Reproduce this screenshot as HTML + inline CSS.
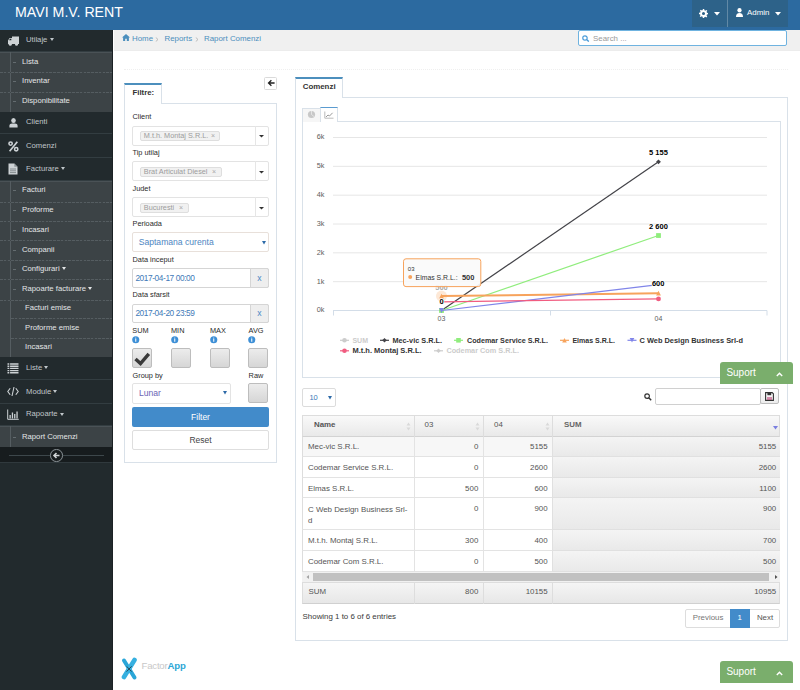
<!DOCTYPE html>
<html><head><meta charset="utf-8">
<style>
*{box-sizing:border-box;margin:0;padding:0}
html,body{width:800px;height:690px;overflow:hidden;background:#fff}
body{position:relative;font-family:"Liberation Sans",sans-serif;font-size:8.5px;color:#393939}
.a{position:absolute}
.t{position:absolute;white-space:nowrap;line-height:1}
/* header */
#hdr{left:0;top:0;width:800px;height:30px;background:#2c6aa0}
#title{left:15px;top:5px;font-size:14.2px;color:#fff;line-height:1}
.hb{top:0;height:27px;background:#2d6289}
/* sidebar */
#sb{left:0;top:30px;width:113px;height:660px;background:#222a2d;border-right:1px solid #1b2124}
.mi{left:0;width:112px;background:#222a2d;border-bottom:1px solid #333d41}
.mt{left:26px;font-size:7.7px;color:#c0c6ca}
.sm{left:0;width:112px;background:#3c4346}
.st{left:22px;font-size:7.7px;color:#e4e6e7}
.dash{left:0;width:112px;height:1px;background:repeating-linear-gradient(90deg,#555d61 0 2.6px,#3f4649 2.6px 3.8px)}
.car{display:inline-block;width:0;height:0;border-left:2.8px solid transparent;border-right:2.8px solid transparent;border-top:3.2px solid currentColor;vertical-align:middle;margin-left:2.2px;position:relative;top:-0.3px}
/* breadcrumb */
#bc{left:114px;top:30px;width:686px;height:21px;background:#f0f0f0;border-bottom:1px solid #ececec}
.bl{color:#4c8fbd;font-size:7.9px}
</style></head><body>

<!-- HEADER -->
<div id="hdr" class="a"></div>
<div id="title" class="t">MAVI M.V. RENT</div>
<div class="a hb" style="left:692px;width:35px"></div>
<div class="a" style="left:727px;top:0;width:1px;height:27px;background:#6289a6"></div>
<div class="a hb" style="left:728px;width:60px"></div>
<svg class="a" style="left:699px;top:8.5px" width="9" height="9" viewBox="0 0 16 16"><path d="M6.8 0h2.4l.4 2.2a6 6 0 0 1 1.6.7l1.8-1.3 1.7 1.7-1.3 1.8a6 6 0 0 1 .7 1.6l2.2.4v2.4l-2.2.4a6 6 0 0 1-.7 1.6l1.3 1.8-1.7 1.7-1.8-1.3a6 6 0 0 1-1.6.7L9.2 16H6.8l-.4-2.2a6 6 0 0 1-1.6-.7L3 14.4 1.3 12.7l1.3-1.8a6 6 0 0 1-.7-1.6L0 9.2V6.8l2.2-.4a6 6 0 0 1 .7-1.6L1.6 3 3.3 1.3l1.8 1.3a6 6 0 0 1 1.6-.7z M8 5.3A2.7 2.7 0 1 0 8 10.7 2.7 2.7 0 1 0 8 5.3z" fill="#fff" fill-rule="evenodd"/></svg>
<svg class="a" style="left:714px;top:11.5px" width="6" height="4" viewBox="0 0 6 4"><path d="M0 0H6L3 3.5Z" fill="#fff"/></svg>
<svg class="a" style="left:735.5px;top:8px" width="7" height="9" viewBox="0 0 7 9"><ellipse cx="3.5" cy="2.3" rx="2.1" ry="2.3" fill="#fff"/><path d="M0 9C0 6 1.2 4.9 3.5 4.9S7 6 7 9Z" fill="#fff"/></svg>
<div class="t" style="left:747px;top:9px;font-size:7.9px;color:#fff">Admin</div>
<svg class="a" style="left:775px;top:11.5px" width="6" height="4" viewBox="0 0 6 4"><path d="M0 0H6L3 3.5Z" fill="#fff"/></svg>

<!-- SIDEBAR -->
<div id="sb" class="a"></div>
<div class="a mi" style="top:30px;height:22px"></div>
<div class="t mt" style="top:36.0px">Utilaje<i class=car></i></div>
<svg class="a" style="left:7px;top:36px" width="13" height="10" viewBox="0 0 13 10"><path d="M5 0.5H12V8H5Z M1 4.5L2.6 2H5V8H1Z" fill="#cdd2d5"/><circle cx="3.3" cy="8.3" r="1.5" fill="#cdd2d5"/><circle cx="9.5" cy="8.3" r="1.5" fill="#cdd2d5"/><path d="M2 4.3L3 2.8H4.3V4.3Z" fill="#222a2d"/></svg>
<div class="a mi" style="top:111.5px;height:22.19999999999999px"></div>
<div class="t mt" style="top:118.4px">Clienti</div>
<svg class="a" style="left:8.5px;top:117.5px" width="9" height="10" viewBox="0 0 9 10"><ellipse cx="4.5" cy="2.6" rx="2.3" ry="2.5" fill="#cdd2d5"/><path d="M0.4 9.6V7.8C0.4 6.2 1.6 5.4 3 5.4H6C7.4 5.4 8.6 6.2 8.6 7.8V9.6Z" fill="#cdd2d5"/></svg>
<div class="a mi" style="top:133.7px;height:24.200000000000017px"></div>
<div class="t mt" style="top:141.6px">Comenzi</div>
<svg class="a" style="left:8px;top:140.5px" width="11" height="11" viewBox="0 0 11 11"><circle cx="2.6" cy="2.6" r="1.65" stroke="#cdd2d5" stroke-width="1.6" fill="none"/><circle cx="8.2" cy="8.2" r="1.65" stroke="#cdd2d5" stroke-width="1.6" fill="none"/><path d="M9.3 0.7L1.6 10.2" stroke="#cdd2d5" stroke-width="1.7"/></svg>
<div class="a mi" style="top:157.9px;height:22.69999999999999px"></div>
<div class="t mt" style="top:164.5px">Facturare<i class=car></i></div>
<svg class="a" style="left:8px;top:163px" width="10" height="12" viewBox="0 0 10 12"><path d="M0.5 0.5H6.3L9.5 3.7V11.5H0.5Z" fill="#cdd2d5"/><path d="M6.3 0.5V3.7H9.5" fill="#8c9497"/><path d="M2 6H8M2 7.8H8M2 9.6H8" stroke="#7c8487" stroke-width="0.9"/></svg>
<div class="a mi" style="top:357px;height:23px"></div>
<div class="t mt" style="top:364.3px">Liste<i class=car></i></div>
<svg class="a" style="left:7px;top:363px" width="12" height="11" viewBox="0 0 12 11"><path d="M0.5 1H11.5M0.5 3.2H11.5M0.5 5.4H11.5M0.5 7.6H11.5M0.5 9.8H11.5" stroke="#cdd2d5" stroke-width="1.4"/><path d="M2.6 0V11" stroke="#222a2d" stroke-width="0.8"/></svg>
<div class="a mi" style="top:380px;height:24px"></div>
<div class="t mt" style="top:387.7px">Module<i class=car></i></div>
<svg class="a" style="left:7px;top:386px" width="12" height="11" viewBox="0 0 12 11"><path d="M3.2 2.2L0.8 5.5L3.2 8.8M8.8 2.2L11.2 5.5L8.8 8.8M7 1L5 10" stroke="#cdd2d5" stroke-width="1.1" fill="none"/></svg>
<div class="a mi" style="top:404px;height:22.399999999999977px"></div>
<div class="t mt" style="top:410.4px">Rapoarte<i class=car></i></div>
<svg class="a" style="left:7px;top:409px" width="12" height="11" viewBox="0 0 12 11"><path d="M0.7 0.5V10.3H11.8" stroke="#cdd2d5" stroke-width="1" fill="none"/><path d="M2.5 6H3.8V9.5H2.5ZM4.8 3.5H6.1V9.5H4.8ZM7.1 5H8.4V9.5H7.1ZM9.4 2.5H10.7V9.5H9.4Z" fill="#cdd2d5"/></svg>
<div class="a sm" style="top:52px;height:59.5px;border-top:1px solid #4a5256"></div>
<div class="a" style="left:10px;top:52px;width:1px;height:59.5px;background:#555d61"></div>
<div class="t st" style="left:22px;top:58.0px">Lista</div>
<div class="a" style="left:13px;top:62.0px;width:3px;height:1px;background:#646c70"></div>
<div class="a dash" style="left:0px;width:112px;top:72.2px"></div>
<div class="t st" style="left:22px;top:77.3px">Inventar</div>
<div class="a" style="left:13px;top:81.3px;width:3px;height:1px;background:#646c70"></div>
<div class="a dash" style="left:0px;width:112px;top:92.2px"></div>
<div class="t st" style="left:22px;top:97.2px">Disponibilitate</div>
<div class="a" style="left:13px;top:101.2px;width:3px;height:1px;background:#646c70"></div>
<div class="a sm" style="top:180.6px;height:176.4px;border-top:1px solid #4a5256"></div>
<div class="a" style="left:10px;top:180.6px;width:1px;height:176.4px;background:#555d61"></div>
<div class="t st" style="left:22px;top:186.2px">Facturi</div>
<div class="a" style="left:13px;top:190.2px;width:3px;height:1px;background:#646c70"></div>
<div class="a dash" style="left:0px;width:112px;top:201.5px"></div>
<div class="t st" style="left:22px;top:206.2px">Proforme</div>
<div class="a" style="left:13px;top:210.2px;width:3px;height:1px;background:#646c70"></div>
<div class="a dash" style="left:0px;width:112px;top:220.7px"></div>
<div class="t st" style="left:22px;top:225.8px">Incasari</div>
<div class="a" style="left:13px;top:229.8px;width:3px;height:1px;background:#646c70"></div>
<div class="a dash" style="left:0px;width:112px;top:240.2px"></div>
<div class="t st" style="left:22px;top:245.5px">Companii</div>
<div class="a" style="left:13px;top:249.5px;width:3px;height:1px;background:#646c70"></div>
<div class="a dash" style="left:0px;width:112px;top:259.8px"></div>
<div class="t st" style="left:22px;top:265.0px">Configurari<i class=car></i></div>
<div class="a" style="left:13px;top:269.0px;width:3px;height:1px;background:#646c70"></div>
<div class="a dash" style="left:0px;width:112px;top:279px"></div>
<div class="t st" style="left:22px;top:284.5px">Rapoarte facturare<i class=car></i></div>
<div class="a" style="left:13px;top:288.5px;width:3px;height:1px;background:#646c70"></div>
<div class="a dash" style="left:0px;width:112px;top:299.5px"></div>
<div class="t st" style="left:25px;top:303.9px">Facturi emise</div>
<div class="a dash" style="left:11px;width:101px;top:318.3px"></div>
<div class="t st" style="left:25px;top:323.5px">Proforme emise</div>
<div class="a dash" style="left:11px;width:101px;top:338.3px"></div>
<div class="t st" style="left:25px;top:343.0px">Incasari</div>
<div class="a sm" style="top:426.4px;height:20.600000000000023px;border-top:1px solid #4a5256"></div>
<div class="a" style="left:10px;top:426.4px;width:1px;height:20.600000000000023px;background:#555d61"></div>
<div class="t st" style="left:22px;top:432.6px">Raport Comenzi</div>
<div class="a" style="left:13px;top:436.6px;width:3px;height:1px;background:#646c70"></div>
<div class="a" style="left:0;top:447px;width:112px;height:16px;background:#171c1e;border-bottom:1px solid #30393d"></div>
<div class="a" style="left:9px;top:455px;width:95px;height:1px;background:#3d474b"></div>
<div class="a" style="left:50px;top:449px;width:12.5px;height:12.5px;border-radius:50%;border:1px solid #8a9296;background:#171c1e"></div>
<svg class="a" style="left:50px;top:449px" width="13" height="13" viewBox="0 0 13 13"><path d="M9.5 6.5H4M6.5 4L4 6.5 6.5 9" stroke="#d0d4d6" stroke-width="1.6" fill="none"/></svg>

<!-- BREADCRUMB -->
<div id="bc" class="a"></div>
<svg class="a" style="left:122px;top:34px" width="8" height="7" viewBox="0 0 8 7"><path d="M4 0L0 3.6H1.1V7H3.2V4.8H4.8V7H6.9V3.6H8Z" fill="#4c8fbd"/></svg>
<div class="t bl" style="left:132px;top:34.5px">Home</div>
<svg class="a" style="left:155px;top:37px" width="4" height="5" viewBox="0 0 4 5"><path d="M0.8 0.5L3 2.5L0.8 4.5" stroke="#b0b0b0" stroke-width="0.8" fill="none"/></svg>
<div class="t bl" style="left:164.5px;top:34.5px">Reports</div>
<svg class="a" style="left:195px;top:37px" width="4" height="5" viewBox="0 0 4 5"><path d="M0.8 0.5L3 2.5L0.8 4.5" stroke="#b0b0b0" stroke-width="0.8" fill="none"/></svg>
<div class="t bl" style="left:204px;top:34.5px">Raport Comenzi</div>
<div class="a" style="left:578px;top:29.8px;width:209px;height:16.6px;background:#fff;border:1px solid #6fb3e0;border-radius:2px"></div>
<svg class="a" style="left:581.5px;top:35px" width="8" height="7" viewBox="0 0 8 7"><circle cx="3" cy="3" r="2.2" stroke="#4a9bd8" stroke-width="1.2" fill="none"/><path d="M4.6 4.6L6.8 6.6" stroke="#4a9bd8" stroke-width="1.4"/></svg>
<div class="t" style="left:593px;top:34.5px;font-size:7.9px;color:#9a9a9a">Search ...</div>
<!-- dotted divider -->
<div class="a" style="left:124px;top:69px;width:664px;height:0;border-top:1px dotted #efefef"></div>

<!-- FILTER PANEL -->
<div class="a" style="left:264px;top:76.8px;width:12.8px;height:13px;border:1px solid #dadada;background:#fff;border-radius:1.5px"></div>
<svg class="a" style="left:266.5px;top:79.3px" width="9" height="8" viewBox="0 0 9 8"><path d="M7.6 4H2M4.4 1.2L1.5 4L4.4 6.8" stroke="#222" stroke-width="1.3" fill="none"/></svg>
<div class="a" style="left:124px;top:102.5px;width:153px;height:360px;border:1px solid #d9e1e9"></div>
<div class="a" style="left:124px;top:82.5px;width:37.5px;height:21px;border:1px solid #d9e1e9;border-top:2px solid #4c8fbd;border-bottom:0;background:#fff"></div>
<div class="t" style="left:132.5px;top:89.3px;font-size:7.8px;font-weight:bold;color:#333">Filtre:</div>
<div class="t" style="left:132.5px;top:113.4px;font-size:7.35px;color:#2a2a2a">Client</div>
<div class="t" style="left:132.5px;top:149px;font-size:7.35px;color:#2a2a2a">Tip utilaj</div>
<div class="t" style="left:132.5px;top:185px;font-size:7.35px;color:#2a2a2a">Judet</div>
<div class="t" style="left:132.5px;top:220.2px;font-size:7.35px;color:#2a2a2a">Perioada</div>
<div class="t" style="left:132.5px;top:255.7px;font-size:7.35px;color:#2a2a2a">Data inceput</div>
<div class="t" style="left:132.5px;top:290.5px;font-size:7.35px;color:#2a2a2a">Data sfarsit</div>
<div class="t" style="left:132.3px;top:326.8px;font-size:7.35px;color:#2a2a2a">SUM</div>
<div class="t" style="left:171px;top:326.8px;font-size:7.35px;color:#2a2a2a">MIN</div>
<div class="t" style="left:210px;top:326.8px;font-size:7.35px;color:#2a2a2a">MAX</div>
<div class="t" style="left:248.6px;top:326.8px;font-size:7.35px;color:#2a2a2a">AVG</div>
<div class="t" style="left:132.5px;top:371.5px;font-size:7.35px;color:#2a2a2a">Group by</div>
<div class="t" style="left:248.6px;top:371.5px;font-size:7.35px;color:#2a2a2a">Raw</div>
<div class="a" style="left:132px;top:125.5px;width:137px;height:20px;border:1px solid #e3e3e3;border-radius:2px;background:#fff"></div>
<div class="a" style="left:254.5px;top:125.5px;width:1px;height:20px;background:#e6e6e6"></div>
<svg class="a" style="left:259px;top:135.2px" width="5" height="3" viewBox="0 0 5 3"><path d="M0 0H5L2.5 2.5Z" fill="#333"/></svg>
<div class="a" style="left:140px;top:130.7px;width:80.4px;height:10px;border:1px solid #dedede;border-radius:2px;background:#f1f1f1"></div>
<div class="t" style="left:143.8px;top:132.0px;font-size:7.3px;color:#9c9c9c">M.t.h. Montaj S.R.L.</div>
<div class="t" style="left:210.9px;top:132.1px;font-size:7px;color:#a8a8a8">&#215;</div>
<div class="a" style="left:132px;top:161.4px;width:137px;height:20px;border:1px solid #e3e3e3;border-radius:2px;background:#fff"></div>
<div class="a" style="left:254.5px;top:161.4px;width:1px;height:20px;background:#e6e6e6"></div>
<svg class="a" style="left:259px;top:171.1px" width="5" height="3" viewBox="0 0 5 3"><path d="M0 0H5L2.5 2.5Z" fill="#333"/></svg>
<div class="a" style="left:140px;top:166.6px;width:81.6px;height:10px;border:1px solid #dedede;border-radius:2px;background:#f1f1f1"></div>
<div class="t" style="left:143.8px;top:167.9px;font-size:7.3px;color:#9c9c9c">Brat Articulat Diesel</div>
<div class="t" style="left:212.1px;top:168.0px;font-size:7px;color:#a8a8a8">&#215;</div>
<div class="a" style="left:132px;top:197.4px;width:137px;height:20px;border:1px solid #e3e3e3;border-radius:2px;background:#fff"></div>
<div class="a" style="left:254.5px;top:197.4px;width:1px;height:20px;background:#e6e6e6"></div>
<svg class="a" style="left:259px;top:207.1px" width="5" height="3" viewBox="0 0 5 3"><path d="M0 0H5L2.5 2.5Z" fill="#333"/></svg>
<div class="a" style="left:140px;top:202.6px;width:48.599999999999994px;height:10px;border:1px solid #dedede;border-radius:2px;background:#f1f1f1"></div>
<div class="t" style="left:143.8px;top:203.9px;font-size:7.3px;color:#9c9c9c">Bucuresti</div>
<div class="t" style="left:179.1px;top:204.0px;font-size:7px;color:#a8a8a8">&#215;</div>
<div class="a" style="left:132px;top:232.3px;width:137px;height:20.2px;border:1px solid #e8e0da;border-radius:2px;background:#fff"></div>
<div class="t" style="left:138.7px;top:237.6px;font-size:8.6px;color:#4e86c2">Saptamana curenta</div>
<svg class="a" style="left:261.5px;top:240.5px" width="4" height="4" viewBox="0 0 4 4"><path d="M0 0H4L2 3.5Z" fill="#2e6ba8"/></svg>
<div class="a" style="left:132px;top:268.3px;width:137px;height:19.5px;border:1px solid #d5d5d5;border-radius:2px;background:#fff"></div>
<div class="a" style="left:249.7px;top:268.3px;width:19.3px;height:19.5px;border:1px solid #d5d5d5;border-radius:0 2px 2px 0;background:#eee"></div>
<div class="t" style="left:135.4px;top:274.1px;font-size:8.3px;letter-spacing:-0.4px;color:#3f7ab8">2017-04-17 00:00</div>
<div class="t" style="left:257.2px;top:273.90000000000003px;font-size:8.6px;color:#4a86c5">x</div>
<div class="a" style="left:132px;top:303.6px;width:137px;height:19.5px;border:1px solid #d5d5d5;border-radius:2px;background:#fff"></div>
<div class="a" style="left:249.7px;top:303.6px;width:19.3px;height:19.5px;border:1px solid #d5d5d5;border-radius:0 2px 2px 0;background:#eee"></div>
<div class="t" style="left:135.4px;top:309.40000000000003px;font-size:8.3px;letter-spacing:-0.4px;color:#3f7ab8">2017-04-20 23:59</div>
<div class="t" style="left:257.2px;top:309.20000000000005px;font-size:8.6px;color:#4a86c5">x</div>
<svg class="a" style="left:132.2px;top:336px" width="7.5" height="7.5" viewBox="0 0 8 8"><circle cx="4" cy="4" r="3.8" fill="#3d8fd6"/><path d="M4 3.3V6.2" stroke="#fff" stroke-width="1.1"/><circle cx="4" cy="2.2" r="0.6" fill="#fff"/></svg>
<svg class="a" style="left:171.2px;top:336px" width="7.5" height="7.5" viewBox="0 0 8 8"><circle cx="4" cy="4" r="3.8" fill="#3d8fd6"/><path d="M4 3.3V6.2" stroke="#fff" stroke-width="1.1"/><circle cx="4" cy="2.2" r="0.6" fill="#fff"/></svg>
<svg class="a" style="left:210px;top:336px" width="7.5" height="7.5" viewBox="0 0 8 8"><circle cx="4" cy="4" r="3.8" fill="#3d8fd6"/><path d="M4 3.3V6.2" stroke="#fff" stroke-width="1.1"/><circle cx="4" cy="2.2" r="0.6" fill="#fff"/></svg>
<svg class="a" style="left:248.4px;top:336px" width="7.5" height="7.5" viewBox="0 0 8 8"><circle cx="4" cy="4" r="3.8" fill="#3d8fd6"/><path d="M4 3.3V6.2" stroke="#fff" stroke-width="1.1"/><circle cx="4" cy="2.2" r="0.6" fill="#fff"/></svg>
<div class="a" style="left:132px;top:348px;width:19.8px;height:20px;border:1px solid #bdbdbd;border-radius:2px;background:linear-gradient(#ececec,#d6d6d6)"></div>
<div class="a" style="left:171.2px;top:348px;width:19.8px;height:20px;border:1px solid #bdbdbd;border-radius:2px;background:linear-gradient(#ececec,#d6d6d6)"></div>
<div class="a" style="left:210px;top:348px;width:19.8px;height:20px;border:1px solid #bdbdbd;border-radius:2px;background:linear-gradient(#ececec,#d6d6d6)"></div>
<div class="a" style="left:248.4px;top:348px;width:19.8px;height:20px;border:1px solid #bdbdbd;border-radius:2px;background:linear-gradient(#ececec,#d6d6d6)"></div>
<div class="a" style="left:248.2px;top:383.4px;width:19.8px;height:20px;border:1px solid #bdbdbd;border-radius:2px;background:linear-gradient(#ececec,#d6d6d6)"></div>
<svg class="a" style="left:132px;top:348px" width="20" height="20" viewBox="0 0 20 20"><path d="M3.5 11L8.5 15.5L16.8 5.8" stroke="#3a3a3a" stroke-width="3.4" fill="none" stroke-linejoin="miter"/></svg>
<div class="a" style="left:132px;top:383.4px;width:98.6px;height:20.2px;border:1px solid #e3e3e3;border-radius:2px;background:#fff"></div>
<div class="t" style="left:139px;top:389.2px;font-size:8.6px;color:#6a64b4">Lunar</div>
<svg class="a" style="left:223px;top:391.3px" width="4" height="4" viewBox="0 0 4 4"><path d="M0 0H4L2 3.5Z" fill="#2e6ba8"/></svg>
<div class="a" style="left:132px;top:406.8px;width:137px;height:20px;background:#428bca;border-radius:2px"></div>
<div class="t" style="left:132px;top:412.6px;width:137px;text-align:center;font-size:8.5px;color:#fff">Filter</div>
<div class="a" style="left:132px;top:430px;width:137px;height:19.8px;background:#fff;border:1px solid #dedede;border-radius:2px"></div>
<div class="t" style="left:132px;top:435.8px;width:137px;text-align:center;font-size:8.5px;color:#444">Reset</div>
<!-- COMENZI PANEL -->
<div class="a" style="left:294.5px;top:96.6px;width:493px;height:544.6px;border:1px solid #d9e1e9"></div>
<div class="a" style="left:294.5px;top:76.8px;width:48px;height:21px;border:1px solid #d9e1e9;border-top:2px solid #4c8fbd;border-bottom:0;background:#fff"></div>
<div class="t" style="left:302.7px;top:83.2px;font-size:7.9px;font-weight:bold;color:#333">Comenzi</div>
<div class="a" style="left:302.2px;top:120.8px;width:478.4px;height:257.7px;border:1px solid #d9e1e9"></div>
<div class="a" style="left:302.2px;top:108.2px;width:18.6px;height:13.6px;border:1px solid #d9e1e9;border-bottom:0;background:#f6f6f6"></div>
<div class="a" style="left:320.3px;top:107px;width:17.6px;height:14.8px;border:1px solid #d9e1e9;border-top:1.6px solid #5a9bd0;border-bottom:0;background:#fff"></div>
<svg class="a" style="left:307px;top:110px" width="9" height="9" viewBox="0 0 9 9"><circle cx="4.5" cy="4.5" r="3.6" fill="#c8c8c8"/><path d="M4.5 4.5V0.9M4.5 4.5L7.3 6.8" stroke="#f6f6f6" stroke-width="0.6"/></svg>
<svg class="a" style="left:324px;top:110.5px" width="10" height="8" viewBox="0 0 10 8"><path d="M0.8 0.5V7.2H9.5" stroke="#a9a9a9" stroke-width="0.8" fill="none"/><path d="M2 6L4 4L5.5 5L8.6 1.8" stroke="#8f8f8f" stroke-width="0.9" fill="none"/></svg>
<!--CHART--><svg class="a" style="left:0;top:0;overflow:visible" width="800" height="690" font-family="Liberation Sans, sans-serif"><path d="M333 281.67H767" stroke="#e6e6e6" stroke-width="1"/><path d="M333 252.83H767" stroke="#e6e6e6" stroke-width="1"/><path d="M333 224.00H767" stroke="#e6e6e6" stroke-width="1"/><path d="M333 195.17H767" stroke="#e6e6e6" stroke-width="1"/><path d="M333 166.34H767" stroke="#e6e6e6" stroke-width="1"/><path d="M333 137.50H767" stroke="#e6e6e6" stroke-width="1"/><path d="M333 310.5H767" stroke="#d3dde8" stroke-width="1"/><path d="M333.5 310.5V315.5" stroke="#d3dde8" stroke-width="1"/><path d="M550.5 310.5V315.5" stroke="#d3dde8" stroke-width="1"/><path d="M767 310.5V315.5" stroke="#d3dde8" stroke-width="1"/><text x="324.4" y="312.40" text-anchor="end" font-size="7.3" fill="#606060">0k</text><text x="324.4" y="283.57" text-anchor="end" font-size="7.3" fill="#606060">1k</text><text x="324.4" y="254.73" text-anchor="end" font-size="7.3" fill="#606060">2k</text><text x="324.4" y="225.90" text-anchor="end" font-size="7.3" fill="#606060">3k</text><text x="324.4" y="197.07" text-anchor="end" font-size="7.3" fill="#606060">4k</text><text x="324.4" y="168.24" text-anchor="end" font-size="7.3" fill="#606060">5k</text><text x="324.4" y="139.40" text-anchor="end" font-size="7.3" fill="#606060">6k</text><text x="441.5" y="321.3" text-anchor="middle" font-size="7" fill="#606060">03</text><text x="658.5" y="321.3" text-anchor="middle" font-size="7" fill="#606060">04</text><path d="M441.5 310.50L658.5 161.87" stroke="#434348" stroke-width="1.2" fill="none"/><path d="M441.5 308.10L443.9 310.50L441.5 312.90L439.1 310.50Z" fill="#434348"/><path d="M658.5 159.47L660.9 161.87L658.5 164.27L656.1 161.87Z" fill="#434348"/><path d="M441.5 310.50L658.5 235.53" stroke="#90ed7d" stroke-width="1.2" fill="none"/><rect x="439.1" y="308.10" width="4.8" height="4.8" fill="#90ed7d"/><rect x="656.1" y="233.13" width="4.8" height="4.8" fill="#90ed7d"/><circle cx="441.5" cy="296.08" r="5.5" fill="#f7a35c" fill-opacity="0.25"/><path d="M441.5 296.08L658.5 293.20" stroke="#f7a35c" stroke-width="2.0" fill="none"/><path d="M441.5 293.68L443.9 298.48L439.1 298.48Z" fill="#f7a35c"/><path d="M658.5 290.80L660.9 295.60L656.1 295.60Z" fill="#f7a35c"/><path d="M441.5 310.50L658.5 284.55" stroke="#8085e9" stroke-width="1.2" fill="none"/><path d="M439.1 308.10L443.9 308.10L441.5 312.90Z" fill="#8085e9"/><path d="M656.1 282.15L660.9 282.15L658.5 286.95Z" fill="#8085e9"/><path d="M441.5 301.85L658.5 298.97" stroke="#f15c80" stroke-width="1.2" fill="none"/><circle cx="441.5" cy="301.85" r="2.4" fill="#f15c80"/><circle cx="658.5" cy="298.97" r="2.4" fill="#f15c80"/><text x="658.5" y="155.3" text-anchor="middle" font-size="7.5" font-weight="bold" fill="#000" stroke="#fff" stroke-width="1.6" paint-order="stroke" stroke-linejoin="round" opacity="1">5 155</text><text x="658.5" y="229.2" text-anchor="middle" font-size="7.5" font-weight="bold" fill="#000" stroke="#fff" stroke-width="1.6" paint-order="stroke" stroke-linejoin="round" opacity="1">2 600</text><text x="658.2" y="286.2" text-anchor="middle" font-size="7.5" font-weight="bold" fill="#000" stroke="#fff" stroke-width="1.6" paint-order="stroke" stroke-linejoin="round" opacity="1">600</text><text x="441.5" y="290" text-anchor="middle" font-size="7.5" font-weight="bold" fill="#000" stroke="#fff" stroke-width="1.6" paint-order="stroke" stroke-linejoin="round" opacity="0.35">500</text><text x="441.5" y="304.3" text-anchor="middle" font-size="7.5" font-weight="bold" fill="#000" stroke="#fff" stroke-width="1.6" paint-order="stroke" stroke-linejoin="round" opacity="1">0</text><path d="M340 340.3H349" stroke="#cccccc" stroke-width="1.2"/><circle cx="344.5" cy="340.30" r="2.3" fill="#cccccc"/><text x="352.4" y="342.90000000000003" font-size="7.2" font-weight="bold" fill="#cccccc" textLength="15.6" lengthAdjust="spacingAndGlyphs">SUM</text><path d="M380 340.3H389" stroke="#434348" stroke-width="1.2"/><path d="M384.5 338.00L386.8 340.30L384.5 342.60L382.2 340.30Z" fill="#434348"/><text x="392.4" y="342.90000000000003" font-size="7.2" font-weight="bold" fill="#333333" textLength="49.6" lengthAdjust="spacingAndGlyphs">Mec-vic S.R.L.</text><path d="M454 340.3H463" stroke="#90ed7d" stroke-width="1.2"/><rect x="456.2" y="338.00" width="4.6" height="4.6" fill="#90ed7d"/><text x="467" y="342.90000000000003" font-size="7.2" font-weight="bold" fill="#333333" textLength="81" lengthAdjust="spacingAndGlyphs">Codemar Service S.R.L.</text><path d="M560 340.3H569" stroke="#f7a35c" stroke-width="1.2"/><path d="M564.5 338.00L566.8 342.60L562.2 342.60Z" fill="#f7a35c"/><text x="572.4" y="342.90000000000003" font-size="7.2" font-weight="bold" fill="#333333" textLength="42.6" lengthAdjust="spacingAndGlyphs">Elmas S.R.L.</text><path d="M627.5 340.3H636.5" stroke="#8085e9" stroke-width="1.2"/><path d="M629.7 338.00L634.3 338.00L632.0 342.60Z" fill="#8085e9"/><text x="639.6" y="342.90000000000003" font-size="7.2" font-weight="bold" fill="#333333" textLength="103.4" lengthAdjust="spacingAndGlyphs">C Web Design Business Srl-d</text><path d="M340 350.8H349" stroke="#f15c80" stroke-width="1.2"/><circle cx="344.5" cy="350.80" r="2.3" fill="#f15c80"/><text x="352.4" y="353.40000000000003" font-size="7.2" font-weight="bold" fill="#333333" textLength="69.2" lengthAdjust="spacingAndGlyphs">M.t.h. Montaj S.R.L.</text><path d="M434 350.8H443" stroke="#cccccc" stroke-width="1.2"/><path d="M438.5 348.50L440.8 350.80L438.5 353.10L436.2 350.80Z" fill="#cccccc"/><text x="446.4" y="353.40000000000003" font-size="7.2" font-weight="bold" fill="#cccccc" textLength="72.6" lengthAdjust="spacingAndGlyphs">Codemar Com S.R.L.</text><rect x="403.5" y="258.8" width="77.3" height="27.8" rx="2.5" fill="#f9f9f9" fill-opacity="0.9" stroke="#f7a35c" stroke-width="1"/><text x="407.8" y="271" font-size="6" fill="#333">03</text><circle cx="410.2" cy="276.9" r="2" fill="#f7a35c"/><text x="415.6" y="279.5" font-size="7" fill="#333" textLength="42" lengthAdjust="spacingAndGlyphs">Elmas S.R.L.:</text><text x="461.9" y="279.6" font-size="7.5" font-weight="bold" fill="#333">500</text></svg><!--/CHART-->
<!-- TABLE -->
<div class="a" style="left:302.3px;top:388.4px;width:33.7px;height:18.2px;border:1px solid #dcdcdc;border-radius:2px;background:#fff"></div>
<div class="t" style="left:309.4px;top:393.8px;font-size:7.5px;color:#3a78b8">10</div>
<svg class="a" style="left:328.4px;top:396px" width="4" height="4" viewBox="0 0 4 4"><path d="M0 0H4L2 3.5Z" fill="#2e6ba8"/></svg>
<svg class="a" style="left:643.8px;top:393.4px" width="8" height="8" viewBox="0 0 8 8"><circle cx="3.1" cy="3.1" r="2.3" stroke="#333" stroke-width="1.2" fill="none"/><path d="M4.8 4.8L7.2 7.2" stroke="#333" stroke-width="1.5"/></svg>
<div class="a" style="left:655px;top:388.4px;width:106px;height:16.4px;border:1px solid #d0d0d0;border-radius:2px;background:#fff"></div>
<div class="a" style="left:760.4px;top:388.2px;width:18.2px;height:15.6px;border:1px solid #bdbdbd;border-radius:2px;background:linear-gradient(#fff,#ececec)"></div>
<svg class="a" style="left:765px;top:391.5px" width="9" height="9" viewBox="0 0 9 9"><path d="M0.6 0.6H7.2L8.4 1.8V8.4H0.6Z" fill="none" stroke="#333" stroke-width="1.1"/><rect x="2.4" y="0.6" width="3.8" height="2.6" fill="#333"/><rect x="2" y="5" width="5" height="3" fill="#c2477a" opacity="0.6"/></svg>
<div class="a" style="left:302.4px;top:415.2px;width:478.0px;height:21.4px;background:linear-gradient(#f9f9f9,#e9e9e9);border:1px solid #dddddd;border-bottom:1px solid #d3d3d3"></div>
<div class="a" style="left:413.6px;top:415.2px;width:1px;height:21.4px;background:#dddddd"></div>
<div class="a" style="left:483.4px;top:415.2px;width:1px;height:21.4px;background:#dddddd"></div>
<div class="a" style="left:552.2px;top:415.2px;width:1px;height:21.4px;background:#dddddd"></div>
<div class="t" style="left:314px;top:421.2px;font-size:7.9px;font-weight:bold;color:#555">Name</div>
<div class="t" style="left:424.6px;top:421.2px;font-size:7.9px;color:#555">03</div>
<div class="t" style="left:494px;top:421.2px;font-size:7.9px;color:#555">04</div>
<div class="t" style="left:564px;top:421.2px;font-size:7.9px;font-weight:bold;color:#666">SUM</div>
<svg class="a" style="left:406px;top:421.5px" width="5" height="9" viewBox="0 0 5 9"><path d="M2.5 0.5L4.5 3.6H0.5Z M0.5 5.4H4.5L2.5 8.5Z" fill="#d9d9d9"/></svg>
<svg class="a" style="left:475px;top:421.5px" width="5" height="9" viewBox="0 0 5 9"><path d="M2.5 0.5L4.5 3.6H0.5Z M0.5 5.4H4.5L2.5 8.5Z" fill="#d9d9d9"/></svg>
<svg class="a" style="left:544.5px;top:421.5px" width="5" height="9" viewBox="0 0 5 9"><path d="M2.5 0.5L4.5 3.6H0.5Z M0.5 5.4H4.5L2.5 8.5Z" fill="#d9d9d9"/></svg>
<svg class="a" style="left:772.8px;top:426.2px" width="5" height="4" viewBox="0 0 5 4"><path d="M0 0H5L2.5 3.5Z" fill="#7a7fe0"/></svg>
<div class="a" style="left:302.4px;top:436.6px;width:250.20000000000005px;height:20.799999999999955px;background:#f7f7f7;border-left:1px solid #ddd;border-bottom:1px solid #e3e3e3"></div>
<div class="a" style="left:552.2px;top:436.6px;width:227.79999999999995px;height:20.799999999999955px;background:linear-gradient(#f4f4f4,#e9e9e9);border-bottom:1px solid #e0e0e0;border-left:1px solid #e0e0e0"></div>
<div class="a" style="left:413.6px;top:436.6px;width:1px;height:20.799999999999955px;background:#e3e3e3"></div>
<div class="a" style="left:483.4px;top:436.6px;width:1px;height:20.799999999999955px;background:#e3e3e3"></div>
<div class="t" style="left:308px;top:443.2px;font-size:7.9px;color:#555">Mec-vic S.R.L.</div>
<div class="t" style="left:413.6px;top:443.2px;width:64.69999999999999px;text-align:right;font-size:7.9px;color:#555">0</div>
<div class="t" style="left:483.4px;top:443.2px;width:64.20000000000005px;text-align:right;font-size:7.9px;color:#555">5155</div>
<div class="t" style="left:552.2px;top:443.2px;width:224.0px;text-align:right;font-size:7.9px;color:#555">5155</div>
<div class="a" style="left:302.4px;top:457.4px;width:250.20000000000005px;height:21.0px;background:#fff;border-left:1px solid #ddd;border-bottom:1px solid #e3e3e3"></div>
<div class="a" style="left:552.2px;top:457.4px;width:227.79999999999995px;height:21.0px;background:linear-gradient(#f4f4f4,#e9e9e9);border-bottom:1px solid #e0e0e0;border-left:1px solid #e0e0e0"></div>
<div class="a" style="left:413.6px;top:457.4px;width:1px;height:21.0px;background:#e3e3e3"></div>
<div class="a" style="left:483.4px;top:457.4px;width:1px;height:21.0px;background:#e3e3e3"></div>
<div class="t" style="left:308px;top:464.1px;font-size:7.9px;color:#555">Codemar Service S.R.L.</div>
<div class="t" style="left:413.6px;top:464.1px;width:64.69999999999999px;text-align:right;font-size:7.9px;color:#555">0</div>
<div class="t" style="left:483.4px;top:464.1px;width:64.20000000000005px;text-align:right;font-size:7.9px;color:#555">2600</div>
<div class="t" style="left:552.2px;top:464.1px;width:224.0px;text-align:right;font-size:7.9px;color:#555">2600</div>
<div class="a" style="left:302.4px;top:478.4px;width:250.20000000000005px;height:20.0px;background:#fff;border-left:1px solid #ddd;border-bottom:1px solid #e3e3e3"></div>
<div class="a" style="left:552.2px;top:478.4px;width:227.79999999999995px;height:20.0px;background:linear-gradient(#f4f4f4,#e9e9e9);border-bottom:1px solid #e0e0e0;border-left:1px solid #e0e0e0"></div>
<div class="a" style="left:413.6px;top:478.4px;width:1px;height:20.0px;background:#e3e3e3"></div>
<div class="a" style="left:483.4px;top:478.4px;width:1px;height:20.0px;background:#e3e3e3"></div>
<div class="t" style="left:308px;top:484.6px;font-size:7.9px;color:#555">Elmas S.R.L.</div>
<div class="t" style="left:413.6px;top:484.6px;width:64.69999999999999px;text-align:right;font-size:7.9px;color:#555">500</div>
<div class="t" style="left:483.4px;top:484.6px;width:64.20000000000005px;text-align:right;font-size:7.9px;color:#555">600</div>
<div class="t" style="left:552.2px;top:484.6px;width:224.0px;text-align:right;font-size:7.9px;color:#555">1100</div>
<div class="a" style="left:302.4px;top:498.4px;width:250.20000000000005px;height:32.0px;background:#fff;border-left:1px solid #ddd;border-bottom:1px solid #e3e3e3"></div>
<div class="a" style="left:552.2px;top:498.4px;width:227.79999999999995px;height:32.0px;background:linear-gradient(#f4f4f4,#e9e9e9);border-bottom:1px solid #e0e0e0;border-left:1px solid #e0e0e0"></div>
<div class="a" style="left:413.6px;top:498.4px;width:1px;height:32.0px;background:#e3e3e3"></div>
<div class="a" style="left:483.4px;top:498.4px;width:1px;height:32.0px;background:#e3e3e3"></div>
<div class="t" style="left:308px;top:505.4px;font-size:7.9px;color:#555;line-height:10.6px">C Web Design Business Srl-<br>d</div>
<div class="t" style="left:413.6px;top:505.4px;width:64.69999999999999px;text-align:right;font-size:7.9px;color:#555">0</div>
<div class="t" style="left:483.4px;top:505.4px;width:64.20000000000005px;text-align:right;font-size:7.9px;color:#555">900</div>
<div class="t" style="left:552.2px;top:505.4px;width:224.0px;text-align:right;font-size:7.9px;color:#555">900</div>
<div class="a" style="left:302.4px;top:530.4px;width:250.20000000000005px;height:21.0px;background:#fff;border-left:1px solid #ddd;border-bottom:1px solid #e3e3e3"></div>
<div class="a" style="left:552.2px;top:530.4px;width:227.79999999999995px;height:21.0px;background:linear-gradient(#f4f4f4,#e9e9e9);border-bottom:1px solid #e0e0e0;border-left:1px solid #e0e0e0"></div>
<div class="a" style="left:413.6px;top:530.4px;width:1px;height:21.0px;background:#e3e3e3"></div>
<div class="a" style="left:483.4px;top:530.4px;width:1px;height:21.0px;background:#e3e3e3"></div>
<div class="t" style="left:308px;top:537.1px;font-size:7.9px;color:#555">M.t.h. Montaj S.R.L.</div>
<div class="t" style="left:413.6px;top:537.1px;width:64.69999999999999px;text-align:right;font-size:7.9px;color:#555">300</div>
<div class="t" style="left:483.4px;top:537.1px;width:64.20000000000005px;text-align:right;font-size:7.9px;color:#555">400</div>
<div class="t" style="left:552.2px;top:537.1px;width:224.0px;text-align:right;font-size:7.9px;color:#555">700</div>
<div class="a" style="left:302.4px;top:551.4px;width:250.20000000000005px;height:21.0px;background:#fff;border-left:1px solid #ddd;border-bottom:1px solid #e3e3e3"></div>
<div class="a" style="left:552.2px;top:551.4px;width:227.79999999999995px;height:21.0px;background:linear-gradient(#f4f4f4,#e9e9e9);border-bottom:1px solid #e0e0e0;border-left:1px solid #e0e0e0"></div>
<div class="a" style="left:413.6px;top:551.4px;width:1px;height:21.0px;background:#e3e3e3"></div>
<div class="a" style="left:483.4px;top:551.4px;width:1px;height:21.0px;background:#e3e3e3"></div>
<div class="t" style="left:308px;top:558.1px;font-size:7.9px;color:#555">Codemar Com S.R.L.</div>
<div class="t" style="left:413.6px;top:558.1px;width:64.69999999999999px;text-align:right;font-size:7.9px;color:#555">0</div>
<div class="t" style="left:483.4px;top:558.1px;width:64.20000000000005px;text-align:right;font-size:7.9px;color:#555">500</div>
<div class="t" style="left:552.2px;top:558.1px;width:224.0px;text-align:right;font-size:7.9px;color:#555">500</div>
<div class="a" style="left:302.4px;top:572.4px;width:478.0px;height:9.6px;background:#f1f1f1"></div>
<div class="a" style="left:312.6px;top:573px;width:456.6px;height:8.2px;background:#c1c1c1"></div>
<svg class="a" style="left:305.5px;top:575px" width="3" height="4" viewBox="0 0 3 4"><path d="M3 0V4L0.5 2Z" fill="#a3a3a3"/></svg>
<svg class="a" style="left:774.6px;top:575px" width="3" height="4" viewBox="0 0 3 4"><path d="M0 0V4L2.5 2Z" fill="#505050"/></svg>
<div class="a" style="left:302.4px;top:582.2px;width:478.0px;height:21.4px;background:linear-gradient(#f5f5f5,#e7e7e7);border:1px solid #dddddd;border-bottom:1px solid #d0d0d0"></div>
<div class="a" style="left:413.6px;top:582.2px;width:1px;height:21.4px;background:#dddddd"></div>
<div class="a" style="left:483.4px;top:582.2px;width:1px;height:21.4px;background:#dddddd"></div>
<div class="a" style="left:552.2px;top:582.2px;width:1px;height:21.4px;background:#dddddd"></div>
<div class="t" style="left:308.6px;top:588.3px;font-size:7.9px;color:#555">SUM</div>
<div class="t" style="left:413.6px;top:588.3px;width:64.69999999999999px;text-align:right;font-size:7.9px;color:#555">800</div>
<div class="t" style="left:483.4px;top:588.3px;width:64.20000000000005px;text-align:right;font-size:7.9px;color:#555">10155</div>
<div class="t" style="left:552.2px;top:588.3px;width:224.0px;text-align:right;font-size:7.9px;color:#555">10955</div>
<div class="t" style="left:302.6px;top:613px;font-size:7.9px;color:#393939">Showing 1 to 6 of 6 entries</div>
<div class="a" style="left:685.2px;top:608.9px;width:95.2px;height:18.8px;border:1px solid #dddddd;border-radius:2px;background:#fff"></div>
<div class="a" style="left:729.9px;top:608.9px;width:19.7px;height:18.8px;background:#428bca"></div>
<div class="t" style="left:692.7px;top:614.3px;font-size:7.9px;color:#777">Previous</div>
<div class="t" style="left:729.9px;top:614.3px;width:19.7px;text-align:center;font-size:7.9px;color:#fff">1</div>
<div class="t" style="left:756.9px;top:614.3px;font-size:7.9px;color:#555">Next</div>
<!-- SUPPORT + LOGO -->
<div class="a" style="left:720.4px;top:361.5px;width:72.7px;height:22.3px;background:#7aae6c;border-radius:3px 3px 0 0"></div>
<div class="t" style="left:726.4px;top:367.8px;font-size:10px;color:#fff">Suport</div>
<svg class="a" style="left:776.3px;top:371.5px" width="7" height="5" viewBox="0 0 7 5"><path d="M0.8 4L3.5 1.3L6.2 4" stroke="#fff" stroke-width="1.4" fill="none"/></svg>
<div class="a" style="left:720.4px;top:660.5px;width:72.7px;height:22.3px;background:#7aae6c;border-radius:3px 3px 0 0"></div>
<div class="t" style="left:726.4px;top:666.8px;font-size:10px;color:#fff">Suport</div>
<svg class="a" style="left:776.3px;top:670.5px" width="7" height="5" viewBox="0 0 7 5"><path d="M0.8 4L3.5 1.3L6.2 4" stroke="#fff" stroke-width="1.4" fill="none"/></svg>
<svg class="a" style="left:120px;top:657px" width="18" height="24" viewBox="0 0 18 24"><path d="M4 3.5L14.5 20.5" stroke="#2aa6d8" stroke-width="4" stroke-linecap="round"/><path d="M14.5 3L4 20" stroke="#36b0e0" stroke-width="4.6" stroke-linecap="round"/><path d="M6.8 9.5L11.5 14.5M11.6 9.3L6.6 14.6" stroke="#1d2a30" stroke-width="0.9" opacity="0.85"/></svg>
<div class="t" style="left:141.5px;top:661.2px;font-size:9.6px;color:#c8c8c8;letter-spacing:-0.2px">Factor<span style="color:#2ea7d6;font-weight:bold">App</span></div>
</body></html>
